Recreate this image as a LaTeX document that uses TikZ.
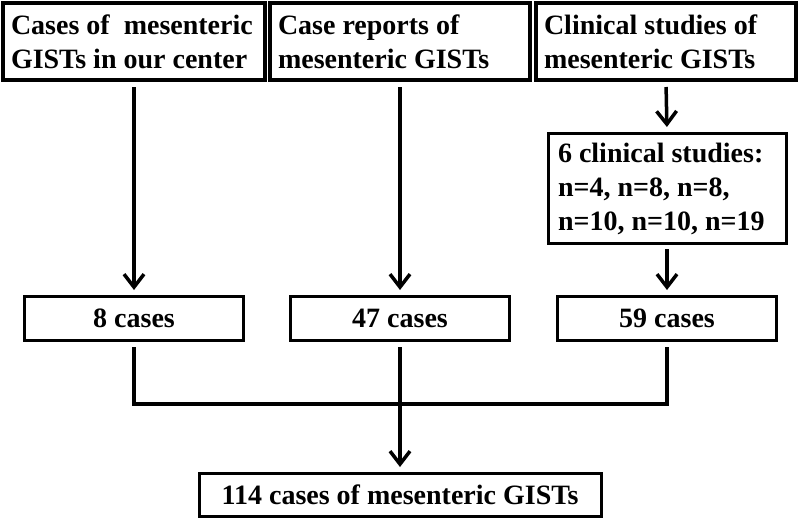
\documentclass[tikz,border=0pt]{standalone}
\usepackage{fontspec}
\setmainfont{Liberation Serif}
\usetikzlibrary{arrows.meta}
\begin{document}
\begin{tikzpicture}[x=1pt,y=-1pt,
  font=\bfseries\fontsize{28}{34}\selectfont,
  box/.style={draw, line width=3pt, inner sep=0pt, align=center},
  topbox/.style={draw, line width=4pt, inner xsep=8pt, inner ysep=0pt, align=flush left},
  midbox/.style={draw, line width=3pt, inner xsep=10pt, inner ysep=0pt, align=flush left},
  conn/.style={line width=3.5pt},
  arr/.style={conn, -{Straight Barb[length=13pt,width=20pt]}, shorten >=5pt},
]
\useasboundingbox (0,0) rectangle (800,520);
% top row
\node[topbox, text width=246pt, minimum height=77pt] (c1) at (134,41.5) {Cases of\ \ mesenteric\\GISTs in our center};
\node[topbox, text width=244pt, minimum height=77pt] (c2) at (400,41.5) {Case reports of\\mesenteric GISTs};
\node[topbox, text width=244pt, minimum height=77pt] (c3) at (666,41.5) {Clinical studies of\\mesenteric GISTs};
% middle box
\node[midbox, text width=218pt, minimum height=110pt] (m) at (667,188.5) {6 clinical studies:\\n=4, n=8, n=8,\\n=10, n=10, n=19};
% count row
\node[box, minimum width=219pt, minimum height=44pt] (r1) at (134,318.5) {8 cases};
\node[box, minimum width=219pt, minimum height=44pt] (r2) at (400,318.5) {47 cases};
\node[box, minimum width=219pt, minimum height=44pt] (r3) at (667,318.5) {59 cases};
% bottom
\node[box, minimum width=402pt, minimum height=43pt] (b) at (400,495) {114 cases of mesenteric GISTs};
\coordinate (hub) at (400,404);
% connectors
\draw[arr, shorten <=5pt] (c1.south) -- (r1.north);
\draw[arr, shorten <=5pt] (c2.south) -- (r2.north);
\draw[arr, shorten <=5pt] (c3.south) -- (m.north);
\draw[arr, shorten <=4pt] (m.south) -- (r3.north);
\draw[conn, shorten <=5pt, shorten >=5pt] (r1.south) -- (r1.south |- hub) -- (r3.south |- hub) -- (r3.south);
\draw[conn, shorten <=5pt] (r2.south) -- (hub);
\draw[arr] (hub) -- (b.north);
\end{tikzpicture}
\end{document}
